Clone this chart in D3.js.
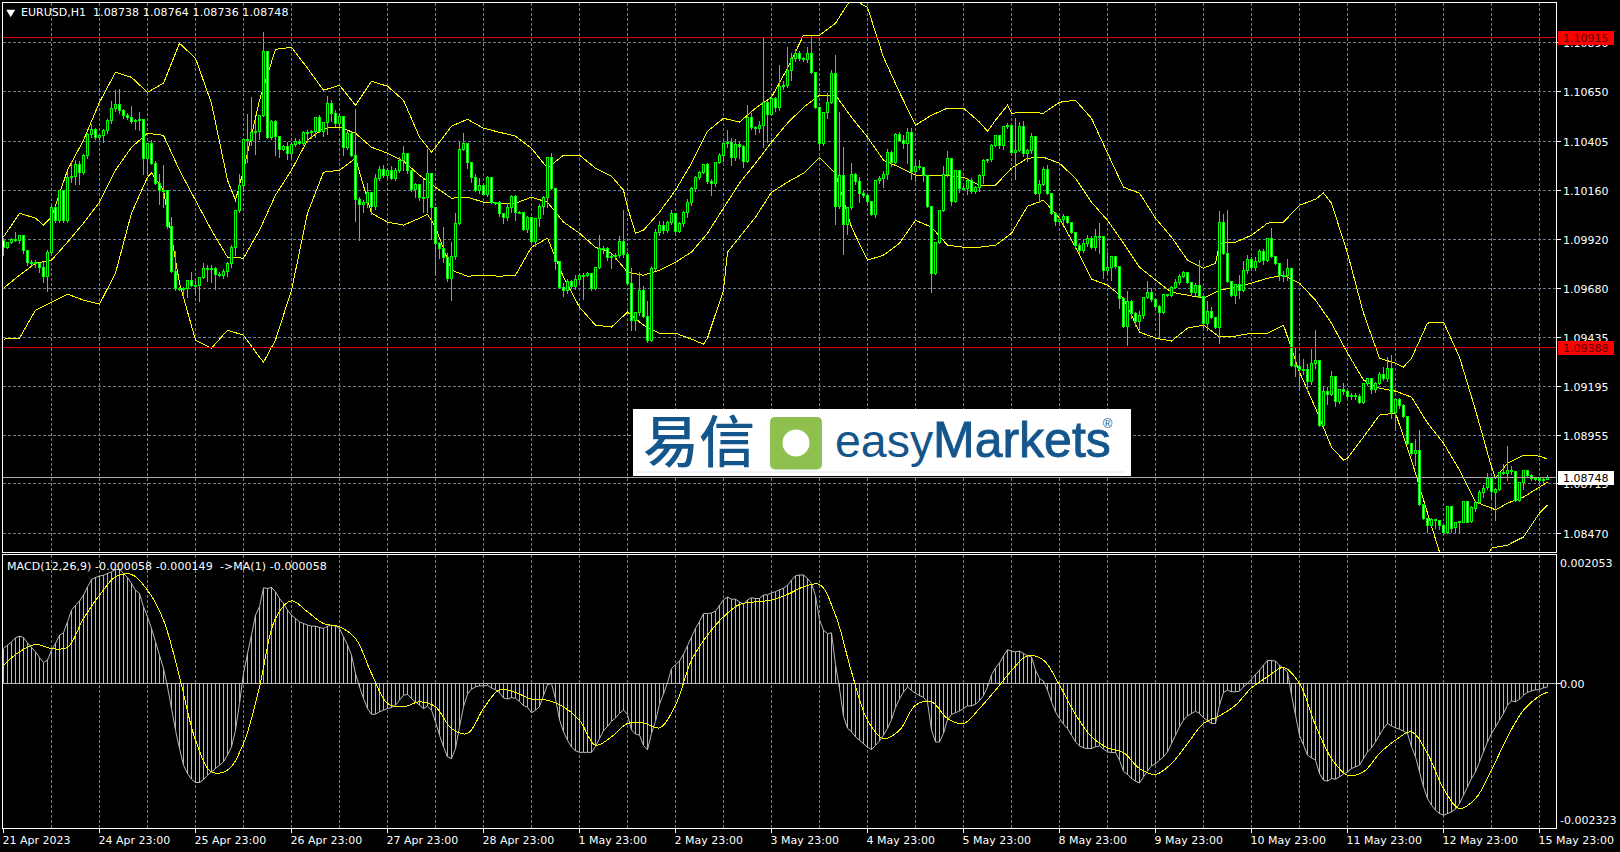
<!DOCTYPE html>
<html><head><meta charset="utf-8">
<script src="https://cdn.jsdelivr.net/npm/d3@7"></script>
<style>html,body{margin:0;padding:0;background:#000;overflow:hidden}svg{display:block}text{font-family:"DejaVu Sans",sans-serif;font-size:11px;fill:#fff}</style>
</head><body><div id="c"></div>
<script>
// Prices are points: price = 1 + pts / 100000
const closePts=[9882,9907,9922,9917,9941,9867,9808,9808,9803,9784,9739,9858,10079,10015,10163,10015,10227,10232,10291,10252,10336,10439,10464,10425,10434,10459,10508,10568,10587,10558,10533,10523,10503,10508,10513,10321,10395,10296,10198,10163,10163,9986,9764,9680,9680,9680,9720,9695,9695,9734,9779,9779,9779,9749,9744,9764,9803,9882,10065,10188,10415,10410,10449,10454,10533,10849,10425,10503,10430,10365,10380,10346,10390,10405,10395,10449,10449,10454,10523,10454,10499,10592,10543,10494,10528,10375,10444,10336,10119,10094,10104,10153,10084,10222,10267,10237,10262,10222,10262,10311,10346,10262,10168,10193,10129,10129,10247,10079,9902,9877,9833,9729,9838,10001,10365,10395,10301,10227,10163,10188,10144,10227,10104,10104,10050,10030,10079,10134,10055,10055,9971,10030,9912,10025,10084,10129,10326,10173,9813,9685,9670,9715,9690,9725,9744,9744,9754,9680,9784,9877,9877,9833,9838,9843,9912,9848,9705,9522,9562,9670,9542,9424,9779,9956,9991,9966,10006,10050,9961,10001,10055,10104,10173,10227,10252,10291,10208,10198,10301,10336,10395,10400,10326,10390,10380,10306,10523,10474,10469,10484,10597,10538,10617,10572,10676,10681,10755,10814,10839,10814,10809,10839,10745,10572,10395,10548,10597,10740,10084,10237,9996,10079,10242,10208,10149,10139,10109,10045,10213,10222,10242,10351,10301,10439,10410,10395,10449,10257,10282,10277,10237,10084,9754,9907,10065,10242,10321,10109,10262,10173,10173,10213,10158,10178,10237,10311,10316,10385,10434,10385,10479,10484,10351,10360,10479,10346,10360,10430,10149,10193,10267,10149,10050,10010,10020,10035,10006,9956,9892,9867,9902,9927,9882,9937,9937,9769,9784,9838,9789,9631,9493,9616,9557,9517,9547,9636,9660,9626,9591,9562,9651,9646,9685,9710,9739,9759,9710,9660,9695,9641,9508,9567,9537,9488,10006,9853,9715,9646,9700,9670,9769,9823,9784,9813,9863,9818,9927,9838,9803,9744,9744,9779,9301,9296,9281,9281,9222,9310,9325,9005,9172,9158,9246,9123,9182,9172,9148,9153,9148,9118,9212,9236,9182,9212,9256,9236,9286,9069,9133,9103,9049,8916,8867,8881,8615,8546,8512,8541,8536,8512,8477,8605,8497,8522,8527,8630,8527,8596,8625,8674,8694,8739,8674,8689,8773,8768,8783,8778,8635,8724,8783,8758,8743,8743,8734,8738,8748];
// Wick lengths above and below the body, in half-pips (0.00005)
const upperWick=[3,1,2,8,1,1,1,3,3,1,6,3,2,2,1,1,6,16,5,4,2,2,6,2,1,2,2,8,15,16,2,3,12,2,8,1,1,4,3,10,25,1,10,20,2,2,1,8,5,1,6,4,4,2,3,3,2,3,1,12,1,25,35,12,1,19,1,2,2,1,2,5,3,4,3,2,3,2,1,3,1,8,4,4,4,1,3,2,46,3,3,10,1,5,4,5,3,5,3,4,8,1,1,2,1,18,24,1,1,2,21,5,14,10,8,11,1,1,4,8,2,2,1,1,2,1,5,2,2,2,1,2,1,1,3,2,1,5,1,1,5,3,2,5,3,3,2,1,1,14,3,2,3,3,6,31,3,15,1,18,5,15,3,4,5,5,2,4,1,2,2,4,2,2,2,1,2,3,1,3,2,13,5,6,3,2,13,5,2,5,64,2,3,2,21,5,23,6,5,3,2,7,17,1,1,1,10,4,19,63,28,1,12,2,5,3,2,1,1,3,4,4,2,2,3,6,5,5,7,7,1,1,1,1,1,9,8,1,1,1,3,3,3,2,2,2,1,2,1,1,1,3,1,32,5,6,2,4,1,5,3,5,1,2,3,3,1,1,1,3,4,4,3,7,13,1,15,1,1,1,2,11,2,2,5,1,12,5,2,2,1,1,2,4,3,2,1,1,3,25,1,10,5,1,11,8,43,1,1,10,10,5,3,5,3,3,1,10,1,1,5,9,1,17,12,10,6,15,30,1,6,5,6,1,1,7,2,3,3,3,1,1,1,2,3,8,11,13,2,2,2,1,1,12,20,1,1,2,1,1,1,1,1,1,1,1,1,2,1,3,4,6,1,2,1,8,24,5,1,1,1,1,2,2,2,2,3];
const lowerWick=[8,1,1,1,3,3,3,3,4,5,6,15,2,2,2,2,2,5,8,12,2,3,3,2,2,7,3,3,3,3,3,2,2,8,10,16,15,1,1,14,17,2,1,2,2,8,9,1,10,16,1,13,14,15,1,3,5,4,8,2,6,22,5,22,8,1,1,2,19,8,1,6,5,2,1,2,10,6,6,1,5,12,8,3,3,8,2,1,22,36,8,5,8,3,2,2,3,1,2,2,10,3,2,8,3,15,15,32,32,10,5,3,22,3,1,1,6,5,1,3,1,2,1,2,3,6,3,5,8,1,1,3,1,5,8,8,10,1,8,1,6,3,2,3,3,24,1,2,1,1,5,3,11,3,2,3,1,10,10,3,1,2,1,2,3,3,2,2,3,1,3,5,3,3,2,1,2,12,3,1,6,4,8,3,12,6,1,2,6,4,22,28,1,4,3,3,2,10,3,2,2,3,1,1,6,2,6,1,18,2,30,10,2,3,9,2,2,1,3,3,9,5,4,1,1,5,20,8,10,2,6,1,19,1,1,1,2,4,1,4,2,6,2,2,4,8,2,2,1,3,4,2,1,27,1,3,8,3,1,9,1,1,1,4,3,5,1,1,3,3,2,3,1,3,17,8,3,13,2,10,1,19,5,5,8,3,1,2,1,25,1,1,1,1,2,1,1,3,3,1,4,7,1,1,16,1,1,1,8,8,1,3,3,3,1,4,1,1,1,5,6,5,1,10,21,5,10,3,5,1,1,10,1,5,2,3,2,3,3,1,1,2,4,3,1,2,3,6,18,3,1,1,2,12,1,1,7,1,8,4,2,1,4,5,10,1,1,1,3,1,5,1,6,28,1,1,7,3,1,1,7,2,2,2,2,2,0];
// Bollinger bands read every fourth bar, plus the last bar
const upperBand=[9932,10050,10025,10030,10262,10410,10597,10745,10720,10646,10691,10888,10814,10592,10213,10262,10607,10858,10868,10765,10656,10681,10582,10701,10676,10607,10425,10375,10479,10513,10469,10449,10430,10370,10272,10336,10336,10272,10232,10079,9966,10055,10163,10296,10454,10518,10499,10568,10622,10765,10927,10927,10987,11110,11065,10819,10646,10484,10533,10568,10568,10499,10508,10543,10548,10543,10597,10607,10518,10346,10178,10149,10025,9932,9818,9779,9902,9907,9941,10001,10006,10089,10119,10099,9853,9557,9335,9310,9335,9508,9513,9340,9079,8798,8817,8857,8852,8837];
const middleBand=[9680,9744,9803,9818,9907,10001,10104,10262,10375,10444,10434,10262,10114,9966,9833,9828,9966,10139,10262,10410,10469,10474,10444,10375,10346,10306,10237,10178,10124,10129,10104,10099,10099,10129,10104,10006,9951,9882,9853,9759,9744,9769,9808,9858,9951,10075,10198,10296,10400,10494,10572,10632,10632,10523,10425,10311,10277,10237,10237,10237,10227,10188,10188,10272,10321,10326,10296,10222,10104,10015,9902,9784,9720,9660,9646,9631,9670,9685,9705,9729,9744,9705,9621,9508,9360,9227,9187,9172,9143,9015,8916,8783,8625,8596,8620,8650,8699,8724];
const lowerBand=[9429,9434,9572,9611,9651,9621,9601,9754,10050,10227,10163,9705,9424,9384,9473,9448,9340,9424,9670,10050,10252,10262,10321,10050,10006,9991,10025,9981,9769,9739,9744,9739,9744,9882,9927,9734,9586,9498,9488,9562,9498,9458,9458,9429,9434,9670,9932,10030,10153,10203,10247,10326,10247,9981,9818,9843,9902,10015,9981,9892,9882,9882,9892,9951,10084,10114,10025,9882,9725,9695,9631,9463,9434,9419,9483,9498,9439,9444,9458,9458,9498,9266,9089,8896,8842,8946,9054,9064,8832,8571,8315,8191,8241,8398,8413,8453,8571,8610];
// Extra band readings at sharp turns: [bar, pts]
const upperExtra=[[10,9991],[58,10114],[107,10351],[155,10163],[158,9951],[246,10454],[251,10582],[303,9803],[330,10149],[350,9291],[373,8744]];
const middleExtra=[[373,8586]];
const lowerExtra=[[37,10249],[65,9315],[106,10045],[175,9404],[181,9858],[335,8832]];
// MACD in millionths, every bar
const macdMicro=[597,654,711,780,808,785,694,615,541,444,358,398,569,683,825,865,1053,1252,1337,1405,1508,1650,1775,1809,1832,1849,1878,1906,1946,1946,1878,1809,1707,1593,1536,1309,1138,939,711,484,256,-57,-427,-797,-1110,-1394,-1536,-1633,-1690,-1690,-1639,-1565,-1508,-1451,-1394,-1337,-1223,-1081,-797,-341,171,512,825,1166,1309,1633,1622,1639,1565,1451,1366,1252,1166,1110,1053,1024,996,979,979,956,939,979,996,979,939,797,654,484,171,-57,-256,-427,-529,-523,-484,-455,-427,-410,-370,-285,-199,-188,-256,-313,-370,-427,-387,-455,-654,-882,-1081,-1252,-1280,-1110,-740,-398,-182,-97,-57,-40,-41,-29,-76,-106,-159,-247,-264,-241,-253,-306,-376,-405,-499,-458,-394,-206,-18,0,-264,-617,-823,-969,-1087,-1146,-1175,-1175,-1175,-1175,-1075,-940,-805,-734,-646,-588,-511,-452,-529,-793,-864,-881,-1058,-1134,-852,-646,-353,-176,10,253,323,382,499,646,793,940,1058,1193,1193,1204,1234,1334,1428,1475,1439,1439,1392,1351,1428,1463,1451,1451,1510,1516,1545,1569,1598,1627,1674,1763,1839,1851,1851,1792,1704,1498,1087,911,852,864,323,-88,-558,-764,-823,-911,-969,-1028,-1087,-1128,-1058,-981,-881,-764,-617,-411,-264,-147,-59,-118,-165,-206,-235,-323,-793,-999,-999,-852,-617,-529,-499,-470,-429,-382,-382,-353,-294,-206,-59,147,264,353,470,576,552,541,552,512,472,455,228,85,40,-114,-313,-484,-597,-694,-768,-882,-996,-1064,-1098,-1110,-1110,-1081,-1064,-1121,-1166,-1178,-1178,-1309,-1497,-1553,-1622,-1667,-1696,-1593,-1491,-1405,-1371,-1309,-1252,-1166,-1024,-882,-740,-626,-552,-512,-472,-512,-586,-637,-683,-683,-370,-154,-114,-142,-142,-131,-57,0,74,154,228,313,393,393,381,313,256,199,-199,-541,-882,-1053,-1223,-1269,-1309,-1536,-1650,-1667,-1622,-1633,-1593,-1548,-1508,-1451,-1423,-1394,-1280,-1166,-1098,-996,-882,-768,-683,-723,-757,-780,-814,-854,-1081,-1252,-1508,-1764,-1963,-2077,-2162,-2219,-2248,-2219,-2191,-2145,-2048,-1906,-1764,-1622,-1508,-1337,-1166,-996,-854,-740,-626,-512,-370,-296,-313,-267,-199,-154,-125,-108,-102,-74,-58];
const signalMicro=[313,541,666,597,615,1110,1508,1821,1861,1593,1081,114,-967,-1508,-1479,-1024,-57,1110,1411,1223,1024,967,768,171,-341,-398,-313,-398,-768,-854,-427,-108,-154,-267,-285,-398,-626,-1053,-910,-683,-671,-757,-370,398,825,1138,1349,1394,1423,1519,1650,1690,1166,199,-626,-939,-797,-370,-313,-597,-683,-427,-114,220,472,398,-28,-529,-910,-1098,-1178,-1451,-1553,-1366,-1024,-683,-552,-370,-74,114,273,0,-711,-1280,-1565,-1508,-1195,-967,-825,-1195,-1792,-2134,-1963,-1479,-910,-455,-211,-149];
const priceTicks=["1.10890","1.10650","1.10405","1.10160","1.09920","1.09680","1.09435","1.09195","1.08955","1.08715","1.08470"];
const dateLabels=["21 Apr 2023","24 Apr 23:00","25 Apr 23:00","26 Apr 23:00","27 Apr 23:00","28 Apr 23:00","1 May 23:00","2 May 23:00","3 May 23:00","4 May 23:00","5 May 23:00","8 May 23:00","9 May 23:00","10 May 23:00","11 May 23:00","12 May 23:00","15 May 23:00"];
const macdTicks=[["0.002053",0.002053],["0.00",0],["-0.002323",-0.002323]];
const redLevels=["1.10915","1.09388"];
const lastPrice="1.08748";
const headerSymbol="EURUSD,H1";
const headerOhlc=["1.08738","1.08764","1.08736","1.08748"];
const macdHeader="MACD(12,26,9) -0.000058 -0.000149  ->MA(1) -0.000058";

const W=1620,H=852,L=2.5,R=1556.5,T=2.5,MB=552.5,ST=554.5,SB=828.5;
const svg=d3.select("#c").append("svg").attr("width",W).attr("height",H);
const defs=svg.append("defs");
defs.append("clipPath").attr("id","cm").append("rect").attr("x",L).attr("y",T).attr("width",R-L).attr("height",MB-T);
defs.append("clipPath").attr("id","cs").append("rect").attr("x",L).attr("y",ST).attr("width",R-L).attr("height",SB-ST);

const n=closePts.length;
const x=d3.scaleLinear().domain([0,n-1]).range([3.5,3.5+4*(n-1)]);
const y=d3.scaleLinear().domain([1.1109,1.08375]).range([2.3,552.8]);
const ys=d3.scaleLinear().domain([0,0.002053]).range([683.5,563.2]);
const px=p=>1+p/1e5;
const crisp=v=>Math.round(v-0.5)+0.5;
const bandIdx=d3.range(0,385,4).concat([386]);
const grid="#708090";

// grid
const gridG=svg.append("g").attr("stroke",grid).attr("stroke-dasharray","3,2").attr("shape-rendering","crispEdges");
priceTicks.forEach(t=>gridG.append("line").attr("x1",L).attr("x2",R).attr("y1",crisp(y(+t))).attr("y2",crisp(y(+t))));
d3.range(12,n,12).forEach(i=>{
  gridG.append("line").attr("x1",x(i)).attr("x2",x(i)).attr("y1",T).attr("y2",MB);
  gridG.append("line").attr("x1",x(i)).attr("x2",x(i)).attr("y1",ST).attr("y2",SB);
});

// Bollinger bands
const gm=svg.append("g").attr("clip-path","url(#cm)");
const bandLine=d3.line().x(d=>x(d[0])).y(d=>y(px(d[1])));
const merged=(b,e)=>d3.sort(b.map((v,k)=>[bandIdx[k],v]).filter(p=>!e.some(q=>q[0]===p[0])).concat(e),d=>d[0]);
[[upperBand,upperExtra],[middleBand,middleExtra],[lowerBand,lowerExtra]].forEach(([b,e])=>gm.append("path").attr("d",bandLine(merged(b,e))).attr("fill","none").attr("stroke","#ffff00").attr("stroke-width",1).attr("shape-rendering","crispEdges"));

// candles
const candles=closePts.map((c,i)=>{const o=i?closePts[i-1]:c+35;const top=Math.max(o,c),bot=Math.min(o,c);
  return {i,o,c,h:top+upperWick[i]*5,l:bot-lowerWick[i]*5};});
const cg=gm.append("g").attr("shape-rendering","crispEdges");
cg.selectAll("line").data(candles).join("line").attr("x1",d=>x(d.i)).attr("x2",d=>x(d.i))
  .attr("y1",d=>crisp(y(px(d.h)))).attr("y2",d=>crisp(y(px(d.l)))).attr("stroke","#00ff00");
cg.selectAll("rect").data(candles).join("rect").attr("x",d=>x(d.i)-1).attr("width",2)
  .attr("y",d=>crisp(y(px(Math.max(d.o,d.c)))))
  .attr("height",d=>Math.max(1,Math.round(Math.abs(y(px(d.o))-y(px(d.c))))))
  .attr("fill",d=>d.c>d.o?"#000":"#fff").attr("stroke","#00ff00");

// levels
const lv=svg.append("g").attr("shape-rendering","crispEdges");
redLevels.forEach(v=>lv.append("line").attr("x1",L).attr("x2",R).attr("y1",crisp(y(+v))).attr("y2",crisp(y(+v))).attr("stroke","#e00000"));
lv.append("line").attr("x1",L).attr("x2",R).attr("y1",crisp(y(+lastPrice))).attr("y2",crisp(y(+lastPrice))).attr("stroke","#a9a9a9");

// logo
const logo=svg.append("g");
logo.append("rect").attr("x",633).attr("y",409).attr("width",498).attr("height",67).attr("fill","#fff");
logo.append("rect").attr("x",635).attr("y",471).attr("width",490).attr("height",2).attr("fill","#eef2f8");
logo.append("text").attr("x",643).attr("y",462).text("易信").style("font-family",'"Noto Sans CJK SC"').style("font-size","56px").style("font-weight","500").style("fill","#14568c");
logo.append("rect").attr("x",770).attr("y",417).attr("width",52).attr("height",52.5).attr("rx",5).attr("fill","#8fc04f");
logo.append("circle").attr("cx",796).attr("cy",443).attr("r",13.5).attr("fill","#fff");
logo.append("text").attr("x",835).attr("y",457).text("easy").style("font-family",'"Liberation Sans"').style("font-size","46.5px").style("fill","#14568c");
const mk=logo.append("text").attr("x",933).attr("y",457).style("font-family",'"Liberation Sans"').style("fill","#14568c");
mk.append("tspan").text("Markets").style("font-size","50px").style("stroke","#14568c").style("stroke-width","0.9px");
mk.append("tspan").text("®").attr("dx",-8).attr("dy",-29).style("font-size","13px");

// MACD panel
const gs=svg.append("g").attr("clip-path","url(#cs)");
const zero=ys(0);
gs.append("line").attr("x1",L).attr("x2",R).attr("y1",crisp(zero)).attr("y2",crisp(zero)).attr("stroke","#b8b8b8").attr("shape-rendering","crispEdges");
gs.selectAll("line.h").data(macdMicro).join("line").attr("class","h").attr("x1",(d,i)=>x(i)).attr("x2",(d,i)=>x(i))
  .attr("y1",zero).attr("y2",d=>ys(d/1e6)).attr("stroke","#b8b8b8").attr("shape-rendering","crispEdges");
gs.append("path").attr("d",d3.line().x((d,i)=>x(i)).y(d=>ys(d/1e6))(macdMicro)).attr("fill","none").attr("stroke","#b8b8b8");
gs.append("path").attr("d",d3.line().x((d,k)=>x(bandIdx[k])).y(d=>ys(d/1e6)).curve(d3.curveCatmullRom)(signalMicro)).attr("fill","none").attr("stroke","#ffff00").attr("shape-rendering","crispEdges");

// frames
const fr=svg.append("g").attr("fill","none").attr("stroke","#fff").attr("shape-rendering","crispEdges");
fr.append("rect").attr("x",L).attr("y",T).attr("width",R-L).attr("height",MB-T);
fr.append("rect").attr("x",L).attr("y",ST).attr("width",R-L).attr("height",SB-ST);

// price axis
const ax=svg.append("g");
priceTicks.forEach(t=>{const v=crisp(y(+t));
  ax.append("line").attr("x1",R).attr("x2",R+4).attr("y1",v).attr("y2",v).attr("stroke","#fff").attr("shape-rendering","crispEdges");
  ax.append("text").attr("x",1563).attr("y",v+4).text(t);});
macdTicks.forEach(([s,v])=>{
  ax.append("text").attr("x",1560).attr("y",ys(v)+4).text(s);});
ax.append("line").attr("x1",R).attr("x2",R+4).attr("y1",crisp(zero)).attr("y2",crisp(zero)).attr("stroke","#fff").attr("shape-rendering","crispEdges");
dateLabels.forEach((s,k)=>{const i=k*24;
  ax.append("line").attr("x1",x(i)).attr("x2",x(i)).attr("y1",SB).attr("y2",SB+4).attr("stroke","#fff").attr("shape-rendering","crispEdges");
  ax.append("text").attr("x",x(i)-1).attr("y",844).text(s);});

// price tags
function tag(v,bg,fg){const c=crisp(y(+v));
  ax.append("rect").attr("x",1558).attr("y",c-6.5).attr("width",56).attr("height",14).attr("fill",bg);
  ax.append("text").attr("x",1563).attr("y",c+4).text(v).style("fill",fg);}
redLevels.forEach(v=>tag(v,"#ff0000","#5a0000"));
tag(lastPrice,"#ffffff","#000000");

// headers
svg.append("path").attr("d",d3.symbol(d3.symbolTriangle,34)()).attr("transform","translate(10.7,12.2) rotate(180)").attr("fill","#fff");
svg.append("text").attr("x",21).attr("y",16).text(headerSymbol);
svg.append("text").attr("x",93).attr("y",16).style("letter-spacing","0.1px").text(headerOhlc.join(" "));
svg.append("text").attr("x",7).attr("y",570).style("white-space","pre").style("letter-spacing","0.07px").text(macdHeader);
</script></body></html>
